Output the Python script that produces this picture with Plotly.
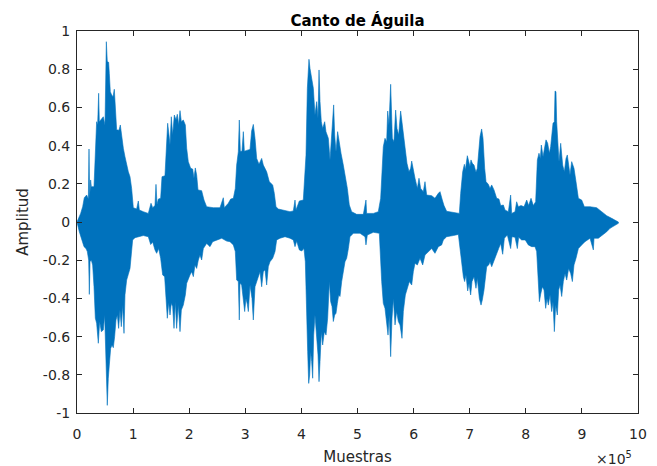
import plotly.graph_objects as go

# Envelope of the waveform (x in units of 1e5 samples)
upper_x = [0.0,0.03,0.065,0.101,0.13,0.172,0.202,0.214,0.226,0.243,0.255,0.303,0.321,0.333,0.35,0.368,0.386,0.398,0.44,0.469,0.499,0.523,0.54,0.564,0.576,0.594,0.618,0.642,0.665,0.683,0.707,0.725,0.748,0.772,0.796,0.826,0.855,0.885,0.915,0.945,0.974,1.004,1.063,1.093,1.111,1.182,1.271,1.319,1.349,1.39,1.408,1.426,1.45,1.491,1.515,1.568,1.592,1.616,1.64,1.658,1.681,1.705,1.735,1.765,1.788,1.812,1.836,1.86,1.895,1.931,1.955,1.984,2.026,2.062,2.085,2.109,2.133,2.157,2.222,2.264,2.311,2.43,2.549,2.608,2.626,2.697,2.739,2.787,2.822,2.846,2.876,2.893,2.911,2.941,2.965,2.983,3.024,3.084,3.113,3.143,3.173,3.203,3.244,3.292,3.321,3.381,3.428,3.488,3.517,3.547,3.589,3.678,3.797,3.856,3.886,3.904,3.963,4.034,4.064,4.082,4.106,4.135,4.153,4.177,4.213,4.242,4.272,4.296,4.314,4.332,4.355,4.379,4.415,4.438,4.48,4.51,4.539,4.563,4.575,4.593,4.617,4.646,4.676,4.706,4.747,4.783,4.819,4.854,4.896,4.985,5.104,5.151,5.163,5.282,5.371,5.413,5.437,5.46,5.49,5.52,5.538,5.561,5.591,5.621,5.65,5.68,5.704,5.734,5.769,5.799,5.823,5.853,5.882,5.918,5.948,5.966,5.995,6.025,6.067,6.096,6.126,6.173,6.203,6.233,6.322,6.381,6.441,6.471,6.512,6.542,6.589,6.708,6.815,6.839,6.875,6.905,6.922,6.958,6.982,7.005,7.023,7.047,7.077,7.112,7.136,7.166,7.184,7.213,7.237,7.267,7.291,7.332,7.362,7.392,7.433,7.481,7.522,7.552,7.6,7.629,7.689,7.73,7.748,7.808,7.837,7.867,7.915,7.968,8.016,8.051,8.093,8.134,8.176,8.206,8.235,8.259,8.277,8.307,8.337,8.36,8.39,8.42,8.443,8.461,8.485,8.509,8.521,8.538,8.55,8.574,8.592,8.622,8.657,8.687,8.717,8.74,8.77,8.788,8.818,8.859,8.895,8.937,8.996,9.044,9.145,9.263,9.353,9.442,9.531,9.62,9.65]
upper_y = [0,0.019,0.045,0.08,0.127,0.141,0.12,0.382,0.124,0.22,0.185,0.185,0.333,0.487,0.525,0.508,0.674,0.525,0.538,0.551,0.508,0.944,0.84,0.836,0.778,0.682,0.665,0.656,0.695,0.613,0.482,0.482,0.48,0.508,0.438,0.386,0.342,0.298,0.263,0.237,0.176,0.075,0.068,0.11,0.063,0.054,0.045,0.098,0.075,0.086,0.197,0.092,0.12,0.124,0.237,0.242,0.394,0.517,0.455,0.403,0.551,0.455,0.56,0.534,0.564,0.508,0.583,0.525,0.534,0.508,0.386,0.316,0.281,0.277,0.229,0.283,0.246,0.168,0.164,0.115,0.08,0.075,0.075,0.127,0.075,0.098,0.12,0.124,0.176,0.298,0.368,0.534,0.37,0.37,0.473,0.37,0.375,0.38,0.477,0.511,0.438,0.333,0.302,0.333,0.298,0.263,0.211,0.194,0.15,0.08,0.068,0.063,0.054,0.058,0.115,0.063,0.11,0.115,0.246,0.351,0.7,0.852,0.805,0.77,0.7,0.56,0.63,0.543,0.796,0.63,0.525,0.49,0.525,0.473,0.438,0.325,0.445,0.508,0.613,0.455,0.368,0.473,0.412,0.36,0.298,0.237,0.176,0.089,0.054,0.04,0.04,0.115,0.045,0.045,0.054,0.124,0.281,0.394,0.438,0.42,0.581,0.508,0.721,0.438,0.42,0.586,0.49,0.455,0.581,0.508,0.455,0.351,0.307,0.263,0.281,0.319,0.263,0.229,0.176,0.229,0.176,0.159,0.211,0.141,0.138,0.124,0.15,0.159,0.115,0.086,0.056,0.05,0.045,0.15,0.263,0.302,0.272,0.347,0.319,0.29,0.325,0.307,0.298,0.26,0.281,0.386,0.447,0.487,0.438,0.281,0.211,0.197,0.176,0.194,0.168,0.124,0.12,0.086,0.089,0.063,0.054,0.141,0.045,0.054,0.106,0.08,0.086,0.08,0.115,0.086,0.124,0.086,0.106,0.325,0.36,0.333,0.403,0.342,0.386,0.43,0.412,0.36,0.394,0.438,0.517,0.525,0.686,0.682,0.525,0.403,0.316,0.412,0.298,0.263,0.333,0.351,0.263,0.246,0.316,0.281,0.211,0.124,0.115,0.08,0.08,0.075,0.054,0.033,0.019,0.002,0]

lower_x = [0.0,0.041,0.083,0.125,0.16,0.184,0.208,0.22,0.232,0.255,0.279,0.303,0.327,0.35,0.38,0.404,0.434,0.469,0.493,0.517,0.529,0.54,0.558,0.576,0.6,0.624,0.647,0.671,0.695,0.719,0.742,0.766,0.79,0.814,0.838,0.855,0.885,0.915,0.945,0.968,0.992,1.034,1.093,1.182,1.271,1.313,1.349,1.39,1.42,1.456,1.491,1.527,1.562,1.586,1.61,1.634,1.658,1.681,1.705,1.729,1.753,1.776,1.806,1.836,1.86,1.895,1.931,1.955,1.984,2.014,2.044,2.074,2.103,2.133,2.163,2.192,2.222,2.252,2.311,2.371,2.418,2.489,2.579,2.668,2.727,2.787,2.822,2.846,2.876,2.893,2.905,2.935,2.965,2.989,3.012,3.036,3.054,3.084,3.119,3.143,3.173,3.203,3.232,3.262,3.292,3.321,3.351,3.381,3.41,3.44,3.488,3.53,3.559,3.618,3.708,3.797,3.856,3.886,3.916,3.963,4.005,4.046,4.07,4.094,4.112,4.13,4.147,4.165,4.183,4.201,4.219,4.242,4.272,4.296,4.314,4.332,4.355,4.379,4.409,4.439,4.468,4.498,4.522,4.546,4.569,4.593,4.617,4.641,4.664,4.688,4.718,4.747,4.777,4.807,4.837,4.866,4.926,5.045,5.134,5.151,5.175,5.282,5.389,5.431,5.46,5.49,5.52,5.544,5.567,5.591,5.615,5.639,5.669,5.698,5.728,5.758,5.793,5.817,5.853,5.888,5.924,5.966,5.995,6.025,6.067,6.114,6.162,6.203,6.263,6.322,6.381,6.441,6.5,6.53,6.589,6.708,6.798,6.827,6.857,6.887,6.91,6.934,6.964,6.988,7.017,7.041,7.077,7.112,7.136,7.172,7.202,7.225,7.255,7.279,7.303,7.338,7.362,7.392,7.433,7.481,7.516,7.552,7.588,7.618,7.671,7.73,7.754,7.808,7.849,7.873,7.926,7.99,8.045,8.105,8.164,8.194,8.218,8.242,8.265,8.295,8.325,8.354,8.378,8.402,8.432,8.461,8.485,8.509,8.532,8.562,8.586,8.61,8.64,8.669,8.699,8.729,8.764,8.8,8.83,8.859,8.895,8.937,8.996,9.055,9.145,9.204,9.216,9.293,9.37,9.442,9.501,9.572,9.65]
lower_y = [0,-0.051,-0.094,-0.129,-0.139,-0.155,-0.199,-0.379,-0.208,-0.199,-0.225,-0.339,-0.504,-0.53,-0.635,-0.521,-0.574,-0.565,-0.487,-0.696,-0.827,-0.96,-0.818,-0.749,-0.662,-0.644,-0.658,-0.6,-0.513,-0.487,-0.557,-0.461,-0.548,-0.435,-0.583,-0.382,-0.304,-0.274,-0.243,-0.164,-0.094,-0.082,-0.077,-0.071,-0.077,-0.118,-0.105,-0.146,-0.164,-0.139,-0.19,-0.277,-0.286,-0.408,-0.504,-0.421,-0.487,-0.426,-0.443,-0.557,-0.417,-0.557,-0.435,-0.574,-0.461,-0.435,-0.382,-0.321,-0.304,-0.277,-0.26,-0.286,-0.225,-0.243,-0.199,-0.173,-0.199,-0.139,-0.112,-0.129,-0.103,-0.094,-0.085,-0.1,-0.103,-0.12,-0.155,-0.304,-0.312,-0.513,-0.321,-0.33,-0.408,-0.469,-0.4,-0.431,-0.469,-0.33,-0.4,-0.513,-0.339,-0.312,-0.286,-0.26,-0.339,-0.26,-0.25,-0.33,-0.234,-0.208,-0.19,-0.155,-0.094,-0.085,-0.077,-0.085,-0.094,-0.129,-0.1,-0.146,-0.152,-0.139,-0.208,-0.382,-0.679,-0.845,-0.801,-0.679,-0.731,-0.818,-0.592,-0.487,-0.574,-0.696,-0.836,-0.731,-0.574,-0.644,-0.574,-0.592,-0.504,-0.312,-0.417,-0.443,-0.521,-0.487,-0.478,-0.426,-0.382,-0.39,-0.312,-0.251,-0.208,-0.19,-0.139,-0.077,-0.059,-0.059,-0.077,-0.12,-0.068,-0.054,-0.059,-0.312,-0.426,-0.452,-0.53,-0.592,-0.487,-0.705,-0.504,-0.4,-0.539,-0.469,-0.521,-0.539,-0.609,-0.469,-0.382,-0.347,-0.312,-0.33,-0.26,-0.216,-0.225,-0.19,-0.225,-0.173,-0.155,-0.139,-0.164,-0.129,-0.12,-0.094,-0.077,-0.071,-0.065,-0.139,-0.208,-0.286,-0.312,-0.277,-0.361,-0.321,-0.382,-0.312,-0.286,-0.347,-0.295,-0.4,-0.435,-0.408,-0.356,-0.312,-0.234,-0.225,-0.208,-0.234,-0.199,-0.164,-0.139,-0.112,-0.169,-0.085,-0.068,-0.139,-0.077,-0.08,-0.139,-0.08,-0.094,-0.094,-0.12,-0.129,-0.129,-0.155,-0.286,-0.417,-0.378,-0.339,-0.356,-0.452,-0.4,-0.435,-0.382,-0.469,-0.417,-0.574,-0.435,-0.487,-0.356,-0.33,-0.39,-0.312,-0.269,-0.304,-0.243,-0.269,-0.312,-0.225,-0.19,-0.139,-0.12,-0.103,-0.085,-0.146,-0.085,-0.085,-0.068,-0.051,-0.033,-0.019,-0.007]

x_ticks = [0, 1, 2, 3, 4, 5, 6, 7, 8, 9, 10]
y_ticks = [-1, -0.8, -0.6, -0.4, -0.2, 0, 0.2, 0.4, 0.6, 0.8, 1]
y_tick_labels = ["-1", "-0.8", "-0.6", "-0.4", "-0.2", "0", "0.2", "0.4", "0.6", "0.8", "1"]

BLUE = "#0072BD"
AX = "#262626"
FONT = "DejaVu Sans"

poly_x = upper_x + lower_x[::-1]
poly_y = upper_y + lower_y[::-1]

fig = go.Figure()
fig.add_trace(go.Scatter(
    x=poly_x, y=poly_y, mode="lines", fill="toself",
    fillcolor=BLUE, line=dict(color=BLUE, width=0.6),
    hoverinfo="skip", showlegend=False,
))

# the page body has an 8px margin, so the figure is sized to fit the window
fig.update_layout(
    width=649, height=458,
    margin=dict(l=69, r=19, t=23, b=53, autoexpand=False),
    paper_bgcolor="white", plot_bgcolor="white",
    font=dict(family=FONT, size=14, color=AX),
    title=dict(text="<b>Canto de Águila</b>", x=0.5, xref="paper", xanchor="center",
               y=1, yref="paper", yanchor="bottom", pad=dict(b=5),
               font=dict(family=FONT, size=15, color="black")),
    showlegend=False,
)
fig.update_xaxes(
    range=[0, 10], tickvals=x_ticks, ticktext=[str(v) for v in x_ticks],
    showgrid=False, zeroline=False, showline=True, linecolor=AX, linewidth=1,
    mirror="ticks", ticks="inside", ticklen=5, tickcolor=AX, tickwidth=1,
    tickfont=dict(family=FONT, size=14, color=AX), automargin=False,
    ticklabelstandoff=8,
    title=dict(text="Muestras", font=dict(family=FONT, size=15, color=AX), standoff=12),
)
fig.update_yaxes(
    range=[-1, 1], tickvals=y_ticks, ticktext=y_tick_labels,
    showgrid=False, zeroline=False, showline=True, linecolor=AX, linewidth=1,
    mirror="ticks", ticks="inside", ticklen=5, tickcolor=AX, tickwidth=1,
    tickfont=dict(family=FONT, size=14, color=AX), automargin=False,
    ticklabelstandoff=3,
    title=dict(text="Amplitud", font=dict(family=FONT, size=15, color=AX), standoff=10),
)
fig.add_annotation(
    text="×10<sup>5</sup>", xref="paper", yref="paper", x=0.993, y=-0.118,
    xanchor="right", yanchor="middle", showarrow=False,
    font=dict(family=FONT, size=14, color=AX),
)

fig.write_html("out.html")
